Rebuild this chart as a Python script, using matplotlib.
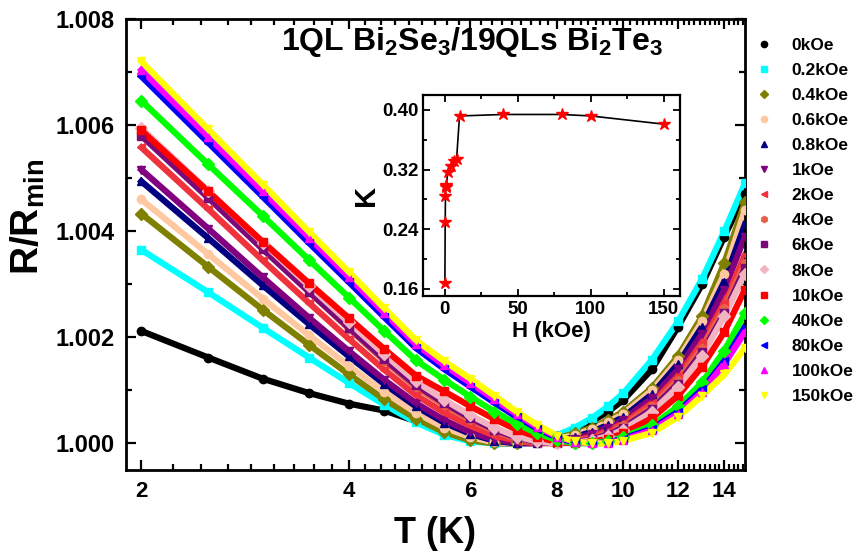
import numpy as np
import matplotlib
matplotlib.use("Agg")
import matplotlib.pyplot as plt
from matplotlib.ticker import FixedLocator, MultipleLocator, NullFormatter

plt.rcParams['font.family'] = ['Liberation Sans', 'DejaVu Sans']
plt.rcParams['font.weight'] = 'bold'
plt.rcParams['mathtext.fontset'] = 'custom'
plt.rcParams['mathtext.rm'] = 'Liberation Sans:bold'
plt.rcParams['mathtext.it'] = 'Liberation Sans:bold'
plt.rcParams['mathtext.bf'] = 'Liberation Sans:bold'
plt.rcParams['mathtext.default'] = 'rm'

# temperature grid (K)
T = [2, 2.5, 3, 3.5, 4, 4.5, 5, 5.5, 6, 6.5, 7, 7.5, 8, 8.5, 9, 9.5, 10, 11, 12, 13, 14, 15]

# R/Rmin, one list per field
r_0k = [1.00212, 1.00162, 1.00122, 1.00095, 1.00075, 1.00062, 1.00042, 1.00022, 1.00008, 1.00002, 1.0, 1.00005,
        1.00015, 1.00027, 1.00042, 1.0006, 1.00082, 1.0014, 1.0022, 1.0030, 1.0039, 1.0047]
r_02k = [1.00365, 1.00285, 1.00218, 1.00162, 1.00114, 1.00073, 1.0004, 1.00016, 1.00004, 1.0, 1.0, 1.00005,
         1.00015, 1.0003, 1.00048, 1.0007, 1.00095, 1.00158, 1.0023, 1.0031, 1.0040, 1.0049]
r_04k = [1.00433, 1.00333, 1.00252, 1.00186, 1.0013, 1.00083, 1.00047, 1.00021, 1.00006, 1.0, 1.0, 1.00004,
         1.0001, 1.00019, 1.0003, 1.00044, 1.0006, 1.00105, 1.00165, 1.0024, 1.0034, 1.00455]
r_06k = [1.0046, 1.00357, 1.00273, 1.00204, 1.00146, 1.00097, 1.00058, 1.0003, 1.00012, 1.00002, 1.0, 1.00003,
         1.00008, 1.00016, 1.00027, 1.0004, 1.00056, 1.001, 1.00158, 1.0023, 1.0032, 1.0044]
r_08k = [1.00494, 1.00387, 1.00298, 1.00225, 1.00164, 1.00112, 1.0007, 1.00039, 1.00018, 1.00005, 1.0, 1.00001,
         1.00005, 1.00012, 1.00022, 1.00035, 1.0005, 1.00093, 1.0015, 1.0022, 1.00305, 1.00413]
r_1k = [1.00516, 1.00405, 1.00313, 1.00237, 1.00174, 1.0012, 1.00076, 1.00044, 1.00021, 1.00007, 1.00001, 1.0,
        1.00003, 1.00009, 1.00018, 1.0003, 1.00045, 1.00086, 1.0014, 1.00207, 1.0029, 1.0039]
r_2k = [1.00558, 1.00442, 1.00345, 1.00265, 1.00197, 1.00139, 1.00091, 1.00058, 1.00033, 1.00015, 1.00005, 1.0,
        1.00001, 1.00005, 1.00013, 1.00024, 1.00038, 1.00076, 1.00127, 1.0019, 1.00265, 1.00355]
r_4k = [1.00586, 1.00467, 1.00368, 1.00286, 1.00216, 1.00156, 1.00106, 1.00072, 1.00044, 1.00023, 1.00009, 1.00002,
        1.0, 1.00003, 1.0001, 1.0002, 1.00034, 1.0007, 1.0012, 1.0018, 1.00255, 1.0034]
r_6k = [1.0058, 1.00463, 1.00366, 1.00286, 1.00218, 1.00159, 1.0011, 1.00076, 1.00048, 1.00026, 1.00011, 1.00003,
        1.0, 1.00002, 1.00008, 1.00017, 1.0003, 1.00065, 1.00113, 1.00172, 1.00245, 1.0033]
r_8k = [1.00594, 1.00476, 1.00378, 1.00297, 1.00228, 1.00168, 1.00117, 1.00082, 1.00053, 1.0003, 1.00013, 1.00004,
        1.0, 1.00001, 1.00006, 1.00014, 1.00026, 1.0006, 1.00107, 1.00165, 1.0024, 1.0032]
r_10k = [1.0059, 1.00475, 1.0038, 1.00302, 1.00236, 1.00178, 1.00128, 1.00098, 1.0007, 1.00046, 1.00026, 1.00012,
         1.00003, 1.0, 1.00003, 1.00009, 1.00019, 1.00048, 1.0009, 1.00145, 1.0021, 1.0029]
r_40k = [1.00646, 1.00526, 1.00429, 1.00346, 1.00275, 1.00212, 1.00157, 1.0012, 1.00088, 1.0006, 1.00037, 1.00019,
         1.00007, 1.0, 1.00001, 1.00004, 1.00012, 1.00034, 1.0007, 1.00115, 1.00175, 1.00245]
r_80k = [1.00692, 1.00567, 1.00465, 1.00378, 1.00304, 1.00238, 1.0018, 1.0014, 1.00107, 1.00077, 1.0005, 1.00028,
         1.00011, 1.00002, 1.0, 1.00002, 1.00009, 1.00028, 1.0006, 1.00102, 1.00155, 1.0022]
r_100k = [1.00704, 1.00578, 1.00475, 1.00388, 1.00313, 1.00246, 1.00187, 1.00147, 1.00114, 1.00083, 1.00055, 1.00031,
          1.00013, 1.00003, 1.0, 1.00001, 1.00007, 1.00025, 1.00056, 1.00097, 1.0015, 1.0021]
r_150k = [1.0072, 1.00592, 1.00488, 1.00399, 1.00323, 1.00255, 1.00195, 1.00155, 1.00122, 1.0009, 1.0006, 1.00035,
          1.00015, 1.00004, 1.0, 1.0, 1.00005, 1.0002, 1.0005, 1.0009, 1.0013, 1.0018]

labels = ['0kOe', '0.2kOe', '0.4kOe', '0.6kOe', '0.8kOe', '1kOe', '2kOe', '4kOe', '6kOe', '8kOe',
          '10kOe', '40kOe', '80kOe', '100kOe', '150kOe']
series = [r_0k, r_02k, r_04k, r_06k, r_08k, r_1k, r_2k, r_4k, r_6k, r_8k, r_10k, r_40k, r_80k, r_100k, r_150k]
colors = ['black', '#00FFFF', '#808000', '#FFC8A0', '#000080', '#800080', '#F0323C', '#E8604A', '#7A0A7A',
          '#F2B4C0', '#FF0000', '#00FF00', '#0000FF', '#FF00FF', '#FFFF00']
markers = ['o', 's', 'D', 'o', '^', 'v', '<', 'h', 's', 'D', 's', 'D', '<', '^', 'v']

# inset: K vs H
H = [0, 0.2, 0.4, 0.6, 0.8, 1, 2, 4, 6, 8, 10, 40, 80, 100, 150]
K = [0.168, 0.250, 0.285, 0.297, 0.298, 0.299, 0.317, 0.325, 0.331, 0.334, 0.392, 0.394, 0.394, 0.392, 0.381]

fig = plt.figure(figsize=(8.54, 5.57), dpi=100)
ax = fig.add_axes([0.1475, 0.1562, 0.7248, 0.8097])

for y, c, m, lab in zip(series, colors, markers, labels):
    ax.plot(T, y, '-', color=c, lw=4.5, zorder=2)
    ax.plot(T, y, linestyle='none', marker=m, color=c, ms=6, mec=c, label=lab, zorder=3)

ax.set_xscale('log')
ax.set_xlim(1.9, 15)
ax.set_ylim(0.9995, 1.008)
ax.xaxis.set_major_locator(FixedLocator([2, 4, 6, 8, 10, 12, 14]))
ax.xaxis.set_major_formatter(plt.FuncFormatter(lambda v, p: f'{v:g}'))
minor = []
for a in [2, 4, 6, 8, 10, 12, 14]:
    minor += [a + k * 2 / 9 for k in range(1, 9)]
ax.xaxis.set_minor_locator(FixedLocator(minor))
ax.xaxis.set_minor_formatter(NullFormatter())
ax.yaxis.set_major_locator(MultipleLocator(0.002))
ax.yaxis.set_minor_locator(MultipleLocator(0.001))
ax.yaxis.set_major_formatter(plt.FuncFormatter(lambda v, p: f'{v:.3f}'))
ax.tick_params(which='both', direction='in', top=True, right=True, width=1.6)
ax.tick_params(axis='y', labelsize=17, pad=8)
ax.tick_params(axis='x', labelsize=16, pad=8)
ax.tick_params(which='major', length=7)
ax.tick_params(which='minor', length=4)
for s in ax.spines.values():
    s.set_linewidth(2)
ax.set_xlabel('T (K)', fontsize=26, fontweight='bold', labelpad=10)
ax.set_ylabel(r'R/R$_{min}$', fontsize=28, fontweight='bold')
ax.yaxis.set_label_coords(-0.128, 0.56)

fig.text(472 / 854, 1 - 42 / 557, r'1QL Bi$_2$Se$_3$/19QLs Bi$_2$Te$_3$', ha='center', va='center',
         fontsize=23, fontweight='bold')

leg = fig.legend(loc='upper left', bbox_to_anchor=(748 / 854, 1 - 31 / 557), frameon=False,
                 fontsize=12.5, markerscale=0.75, handlelength=1.0, handletextpad=1.1, labelspacing=0.57,
                 borderaxespad=0)

ins = fig.add_axes([423 / 854, 1 - 296 / 557, 257 / 854, 201 / 557])
ins.plot(H, K, '-', color='black', lw=1.2)
ins.plot(H, K, linestyle='none', marker='*', color='red', ms=9)
ins.set_xlim(-15, 161)
ins.set_ylim(0.1506, 0.4201)
ins.xaxis.set_major_locator(MultipleLocator(50))
ins.xaxis.set_minor_locator(MultipleLocator(25))
ins.yaxis.set_major_locator(FixedLocator([0.16, 0.24, 0.32, 0.40]))
ins.yaxis.set_minor_locator(FixedLocator([0.20, 0.28, 0.36]))
ins.yaxis.set_major_formatter(plt.FuncFormatter(lambda v, p: f'{v:.2f}'))
ins.tick_params(which='both', direction='in', top=True, right=True, width=1.3, labelsize=13.5)
ins.tick_params(which='major', length=5)
ins.tick_params(which='minor', length=3)
for s in ins.spines.values():
    s.set_linewidth(1.6)
ins.set_xlabel('H (kOe)', fontsize=16, fontweight='bold', labelpad=2)
ins.set_ylabel('K', fontsize=21, fontweight='bold', labelpad=1)

fig.savefig('out.png', dpi=100)
